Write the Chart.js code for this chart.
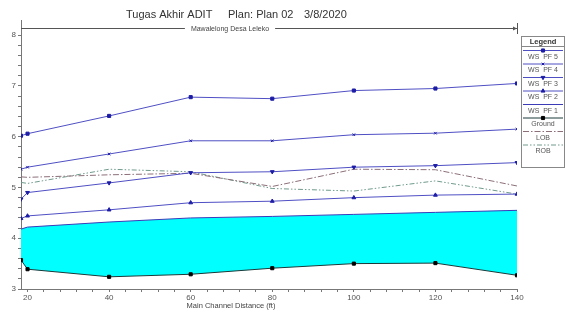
<!DOCTYPE html>
<html>
<head>
<meta charset="utf-8">
<script src="https://cdn.jsdelivr.net/npm/chart.js@4"></script>
<style>
  html, body { margin: 0; padding: 0; background: #fff; }
  #wrap { position: relative; width: 566px; height: 313px; }
</style>
</head>
<body>
<div id="wrap"><canvas id="chart" width="566" height="313"></canvas></div>
<script>
// distances along main channel (ft); first value is where the lines meet the left axis
const distance = [18.4, 20, 40, 60, 80, 100, 120, 140];

const wsPF5  = [6.02, 6.06, 6.41, 6.78, 6.75, 6.91, 6.95, 7.05];
const wsPF4  = [5.36, 5.40, 5.66, 5.92, 5.92, 6.04, 6.07, 6.15];
const wsPF3  = [4.77, 4.90, 5.09, 5.29, 5.31, 5.40, 5.43, 5.49];
const wsPF2  = [4.39, 4.44, 4.56, 4.70, 4.73, 4.80, 4.85, 4.87];
const wsPF1  = [4.18, 4.22, 4.32, 4.40, 4.43, 4.47, 4.51, 4.55];
const ground = [3.57, 3.39, 3.24, 3.29, 3.41, 3.50, 3.51, 3.27];
const lob    = [5.21, 5.20, 5.25, 5.28, 5.02, 5.36, 5.35, 5.03];
const rob    = [5.10, 5.08, 5.36, 5.31, 4.98, 4.93, 5.13, 4.87];

const xLabels = [20, 40, 60, 80, 100, 120, 140];
const yLabels = [3, 4, 5, 6, 7, 8];

const titleText = ['Tugas Akhir ADIT', 'Plan: Plan 02', '3/8/2020'];
const subTitle = 'Mawalelong Desa Leleko';
const xTitle = 'Main Channel Distance (ft)';

const FONT = '"Liberation Sans", Arial, sans-serif';

function pts(vals) {
  return vals.map((v, i) => ({ x: distance[i], y: v }));
}

const lineBlue = '#4f4fc4';
const markBlue = '#1c1ca6';

const datasets = [
  { label: 'WS  PF 5', data: pts(wsPF5), borderColor: lineBlue, pointStyle: 'rect', pointRadius: 2.2,
    pointBackgroundColor: markBlue, pointBorderColor: markBlue },
  { label: 'WS  PF 4', data: pts(wsPF4), borderColor: lineBlue, pointStyle: 'crossRot', pointRadius: 1.8,
    pointBackgroundColor: markBlue, pointBorderColor: markBlue },
  { label: 'WS  PF 3', data: pts(wsPF3), borderColor: lineBlue, pointStyle: 'triangle', pointRotation: 180, pointRadius: 2.2,
    pointBackgroundColor: markBlue, pointBorderColor: markBlue },
  { label: 'WS  PF 2', data: pts(wsPF2), borderColor: lineBlue, pointStyle: 'triangle', pointRadius: 2.2,
    pointBackgroundColor: markBlue, pointBorderColor: markBlue },
  { label: 'LOB', data: pts(lob), borderColor: '#8c6f78', borderDash: [6, 2, 1.5, 2], pointRadius: 0 },
  { label: 'ROB', data: pts(rob), borderColor: '#6f9a8c', borderDash: [5, 2, 1.5, 2, 1.5, 2], pointRadius: 0 },
  { label: 'WS  PF 1', data: pts(wsPF1), borderColor: '#3b3bb8', pointRadius: 0 },
  { label: 'Ground', data: pts(ground), borderColor: '#1b3838', pointStyle: 'rect', pointRadius: 2.2,
    pointBackgroundColor: '#000', pointBorderColor: '#000',
    fill: '-1', backgroundColor: '#00ffff' }
];
datasets.forEach(d => { d.borderWidth = 1; d.tension = 0; d.pointBorderWidth = 1; });

// legend order as in the picture
const legendOrder = ['WS  PF 5', 'WS  PF 4', 'WS  PF 3', 'WS  PF 2', 'WS  PF 1', 'Ground', 'LOB', 'ROB'];

const decorPlugin = {
  id: 'decor',
  afterDraw(chart) {
    const ctx = chart.ctx;
    const area = chart.chartArea;
    ctx.save();

    // main title
    ctx.fillStyle = '#333';
    ctx.font = '11px ' + FONT;
    ctx.textBaseline = 'middle';
    ctx.textAlign = 'left';
    ctx.fillText(titleText[0], 126, 15);
    ctx.fillText(titleText[1], 228, 15);
    ctx.fillText(titleText[2], 304, 15);

    // reach line with name
    const ly = 28;
    ctx.font = '7px ' + FONT;
    const tw = ctx.measureText(subTitle).width;
    const tx = 230;
    ctx.strokeStyle = '#555';
    ctx.lineWidth = 1;
    ctx.beginPath();
    ctx.moveTo(area.left, ly + 0.5); ctx.lineTo(tx - tw / 2 - 6, ly + 0.5);
    ctx.moveTo(tx + tw / 2 + 6, ly + 0.5); ctx.lineTo(area.right, ly + 0.5);
    ctx.moveTo(area.right + 0.5, ly - 5); ctx.lineTo(area.right + 0.5, ly + 6);
    ctx.stroke();
    ctx.fillStyle = '#555';
    ctx.beginPath();
    ctx.moveTo(area.right, ly + 0.5); ctx.lineTo(area.right - 4, ly - 1.5); ctx.lineTo(area.right - 4, ly + 2.5);
    ctx.closePath(); ctx.fill();
    ctx.fillStyle = '#444';
    ctx.textAlign = 'center';
    ctx.fillText(subTitle, tx, ly + 1);

    // x axis title
    ctx.font = '7.5px ' + FONT;
    ctx.fillText(xTitle, 231, 306);

    // legend box
    const bx0 = 521, bx1 = 565, by0 = 36, by1 = 168;
    ctx.fillStyle = '#fff';
    ctx.fillRect(bx0, by0, bx1 - bx0, by1 - by0);
    ctx.strokeStyle = '#888';
    ctx.strokeRect(bx0 + 0.5, by0 + 0.5, bx1 - bx0 - 1, by1 - by0 - 1);
    ctx.fillStyle = '#333';
    ctx.font = 'bold 7.5px ' + FONT;
    ctx.fillText('Legend', (bx0 + bx1) / 2, 41.5);
    ctx.beginPath();
    ctx.moveTo(bx0, 46.5); ctx.lineTo(bx1, 46.5);
    ctx.stroke();

    ctx.font = '7px ' + FONT;
    legendOrder.forEach((name, i) => {
      const ds = chart.data.datasets.find(d => d.label === name);
      const y = 50 + i * 13.5;
      ctx.save();
      ctx.strokeStyle = ds.borderColor;
      ctx.lineWidth = 1;
      ctx.setLineDash(ds.borderDash || []);
      ctx.beginPath();
      ctx.moveTo(bx0 + 2, y + 0.5); ctx.lineTo(bx1 - 2, y + 0.5);
      ctx.stroke();
      ctx.restore();
      if (ds.pointRadius > 0) {
        ctx.save();
        ctx.fillStyle = ds.pointBackgroundColor;
        ctx.strokeStyle = ds.pointBorderColor;
        Chart.helpers.drawPoint(ctx, {
          pointStyle: ds.pointStyle, radius: ds.pointRadius, rotation: ds.pointRotation || 0,
          borderWidth: 1
        }, (bx0 + bx1) / 2, y + 0.5);
        ctx.restore();
      }
      ctx.fillStyle = '#555';
      ctx.fillText(name, (bx0 + bx1) / 2, y + 7);
    });
    ctx.restore();
  }
};

const xMinor = [];
for (let v = 20; v <= 140; v += 4) xMinor.push(v);
const yMinor = [];
for (let v = 3; v <= 8.01; v += 0.2) yMinor.push(Math.round(v * 10) / 10);

new Chart(document.getElementById('chart'), {
  type: 'line',
  data: { datasets: datasets },
  plugins: [decorPlugin],
  options: {
    responsive: false,
    animation: false,
    layout: { padding: { top: 20, right: 49, left: 0, bottom: 0 } },
    plugins: { legend: { display: false }, tooltip: { enabled: false } },
    scales: {
      x: {
        type: 'linear', min: 18.4, max: 140,
        afterBuildTicks: s => { s.ticks = xMinor.map(v => ({ value: v })); },
        afterFit: s => { s.height = 24; },
        ticks: {
          autoSkip: false, maxRotation: 0, padding: 1,
          font: { family: FONT, size: 8 }, color: '#555',
          callback: v => xLabels.includes(v) ? String(v) : ''
        },
        grid: { drawOnChartArea: false, tickLength: 3, color: '#777' },
        border: { color: '#777' }
      },
      y: {
        type: 'linear', min: 3, max: 8.3,
        afterBuildTicks: s => { s.ticks = yMinor.map(v => ({ value: v })); },
        afterFit: s => { s.width = 21; },
        ticks: {
          autoSkip: false, padding: 2,
          font: { family: FONT, size: 8 }, color: '#555',
          callback: v => yLabels.includes(v) ? String(v) : ''
        },
        grid: { drawOnChartArea: false, tickLength: 3, color: '#777' },
        border: { color: '#777' }
      }
    }
  }
});
</script>
</body>
</html>
